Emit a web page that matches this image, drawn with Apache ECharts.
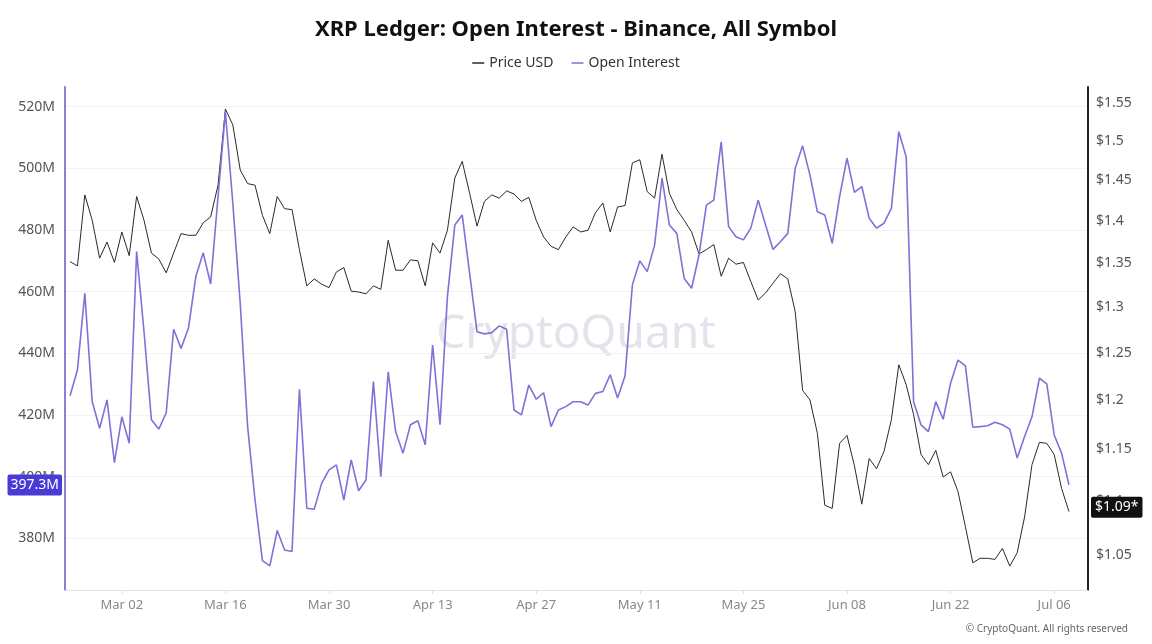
<!DOCTYPE html>
<html>
<head>
<meta charset="utf-8">
<script src="https://cdn.jsdelivr.net/npm/echarts@6/dist/echarts.min.js"></script>
<style>
html, body { margin: 0; padding: 0; background: #fff; }
#chart { width: 1152px; height: 644px; }
</style>
</head>
<body>
<div id="chart"></div>
<script>
// daily points from Feb 23 to Jul 08
const START_DATE = Date.UTC(2026, 1, 23);
const DAY = 86400000;
const MONTHS = ["Jan", "Feb", "Mar", "Apr", "May", "Jun", "Jul", "Aug", "Sep", "Oct", "Nov", "Dec"];

const PRICE_USD = [
  1.352, 1.347, 1.432, 1.401, 1.356, 1.375, 1.351, 1.387, 1.359, 1.430,
  1.401, 1.362, 1.355, 1.339, 1.362, 1.385, 1.383, 1.383, 1.398, 1.405,
  1.444, 1.542, 1.521, 1.463, 1.446, 1.444, 1.407, 1.385, 1.430, 1.415,
  1.414, 1.366, 1.324, 1.332, 1.326, 1.322, 1.340, 1.345, 1.318, 1.317,
  1.315, 1.324, 1.320, 1.377, 1.342, 1.342, 1.354, 1.353, 1.324, 1.374,
  1.362, 1.389, 1.453, 1.474, 1.434, 1.394, 1.424, 1.432, 1.428, 1.437,
  1.433, 1.424, 1.429, 1.401, 1.381, 1.370, 1.366, 1.381, 1.393, 1.387,
  1.389, 1.410, 1.422, 1.387, 1.417, 1.419, 1.472, 1.476, 1.436, 1.428,
  1.483, 1.434, 1.414, 1.401, 1.387, 1.361, 1.366, 1.372, 1.335, 1.356,
  1.349, 1.351, 1.329, 1.308, 1.316, 1.327, 1.338, 1.332, 1.295, 1.210,
  1.200, 1.166, 1.096, 1.093, 1.156, 1.164, 1.134, 1.097, 1.141, 1.131,
  1.148, 1.180, 1.237, 1.216, 1.185, 1.145, 1.135, 1.149, 1.123, 1.128,
  1.109, 1.076, 1.043, 1.047, 1.047, 1.046, 1.056, 1.040, 1.052, 1.085,
  1.135, 1.157, 1.156, 1.145, 1.112, 1.090
];

// open interest, millions USD
const OPEN_INTEREST_M = [
  426.2, 434.6, 459.5, 424.3, 415.7, 424.9, 404.5, 419.4, 410.8, 473.0,
  447.0, 418.4, 415.4, 420.7, 447.8, 441.6, 448.1, 464.9, 472.6, 462.5,
  490.8, 518.3, 488.7, 456.2, 416.2, 392.4, 372.7, 371.0, 382.5, 376.2,
  375.7, 428.3, 389.7, 389.4, 397.8, 402.2, 403.8, 392.4, 405.4, 395.4,
  398.9, 430.8, 400.0, 434.0, 414.6, 407.6, 416.8, 418.1, 410.3, 442.7,
  416.8, 458.4, 481.6, 484.9, 466.0, 447.0, 446.3, 446.7, 448.9, 447.8,
  421.6, 420.0, 429.7, 425.1, 427.2, 416.2, 421.6, 422.7, 424.3, 424.3,
  423.2, 427.0, 427.6, 433.0, 425.5, 432.6, 462.2, 470.0, 466.5, 475.1,
  496.8, 481.6, 478.9, 464.3, 461.1, 471.9, 488.1, 489.7, 508.6, 481.1,
  477.8, 476.8, 480.6, 489.7, 481.6, 473.7, 476.2, 478.9, 500.0, 507.3,
  497.8, 485.9, 484.9, 475.7, 490.8, 503.3, 492.2, 494.1, 483.8, 480.6,
  482.2, 487.0, 511.9, 503.8, 424.3, 416.8, 414.6, 424.3, 418.6, 430.3,
  437.8, 435.9, 416.0, 416.2, 416.5, 417.6, 416.8, 415.4, 406.0, 413.0,
  419.4, 431.9, 430.1, 413.5, 407.6, 397.3
];

const X_TICKS = ["2026-03-02", "2026-03-16", "2026-03-30", "2026-04-13", "2026-04-27",
  "2026-05-11", "2026-05-25", "2026-06-08", "2026-06-22", "2026-07-06"];
const OI_TICKS = [380, 400, 420, 440, 460, 480, 500, 520];
const PRICE_TICKS = [1.05, 1.1, 1.15, 1.2, 1.25, 1.3, 1.35, 1.4, 1.45, 1.5, 1.55];
const OI_RANGE = [363.2, 526.4];
const PRICE_RANGE = [1.0188, 1.5715];
const LAST_OI_LABEL = "397.3M";
const LAST_PRICE_LABEL = "$1.09*";

const FONT = "'Noto Sans', 'Open Sans', sans-serif";

const dateAt = (i) => START_DATE + i * DAY;
const tickTimes = X_TICKS.map((s) => Date.parse(s + "T00:00:00Z"));
const fmtDate = (v) => {
  const d = new Date(v);
  return MONTHS[d.getUTCMonth()] + " " + String(d.getUTCDate()).padStart(2, "0");
};

// price axis is logarithmic: plot ln(price) on a value axis
const priceData = PRICE_USD.map((p, i) => [dateAt(i), Math.log(p)]);
const oiData = OPEN_INTEREST_M.map((v, i) => [dateAt(i), v]);
const lastIdx = PRICE_USD.length - 1;

const chart = echarts.init(document.getElementById("chart"));
chart.setOption({
  animation: false,
  backgroundColor: "#fff",
  textStyle: { fontFamily: FONT },
  title: {
    text: "XRP Ledger: Open Interest - Binance, All Symbol",
    left: "center",
    top: 14,
    textStyle: { fontSize: 22, fontWeight: "bold", color: "#111", fontFamily: FONT },
  },
  legend: {
    top: 51,
    left: "center",
    icon: "rect",
    itemWidth: 12,
    itemHeight: 1.5,
    itemGap: 18,
    data: ["Price USD", "Open Interest"],
    textStyle: { fontSize: 14, color: "#333", fontFamily: FONT },
  },
  grid: { left: 65, right: 64, top: 87, bottom: 54 },
  xAxis: {
    type: "value",
    min: START_DATE - 0.68 * DAY,
    max: dateAt(lastIdx) + 2.57 * DAY,
    axisLine: { lineStyle: { color: "#e2e2e2", width: 1 } },
    axisTick: { show: true, length: 4, lineStyle: { color: "#e2e2e2" }, customValues: tickTimes },
    axisLabel: {
      customValues: tickTimes,
      formatter: fmtDate,
      color: "#888",
      fontSize: 13,
      margin: 9,
      fontFamily: FONT,
    },
    splitLine: { show: false },
  },
  yAxis: [
    {
      type: "value",
      position: "left",
      min: OI_RANGE[0],
      max: OI_RANGE[1],
      axisLine: { show: true, lineStyle: { color: "#8a80d8", width: 2 } },
      axisTick: { show: false, customValues: OI_TICKS },
      axisLabel: {
        customValues: OI_TICKS,
        formatter: (v) => v + "M",
        color: "#555",
        fontSize: 14,
        margin: 10,
        fontFamily: FONT,
      },
      splitLine: { show: true, lineStyle: { color: "#f2f2f2", width: 1 } },
    },
    {
      type: "value",
      position: "right",
      min: Math.log(PRICE_RANGE[0]),
      max: Math.log(PRICE_RANGE[1]),
      axisLine: { show: true, lineStyle: { color: "#222", width: 2 } },
      axisTick: { show: false, customValues: PRICE_TICKS.map(Math.log) },
      axisLabel: {
        customValues: PRICE_TICKS.map(Math.log),
        formatter: (v) => "$" + Number(Math.exp(v).toFixed(2)),
        color: "#555",
        fontSize: 14,
        margin: 8,
        fontFamily: FONT,
      },
      splitLine: { show: false },
    },
  ],
  graphic: [
    {
      type: "text",
      left: "center",
      top: 312,
      z: 0,
      silent: true,
      style: {
        text: "CryptoQuant",
        font: "normal 46px " + FONT,
        fill: "rgba(200,200,218,0.5)",
      },
    },
    {
      type: "text",
      right: 24,
      bottom: 10,
      silent: true,
      style: {
        text: "\u00A9 CryptoQuant. All rights reserved",
        font: "10px " + FONT,
        fill: "#666",
      },
    },
  ],
  series: [
    {
      name: "Price USD",
      type: "line",
      yAxisIndex: 1,
      symbol: "none",
      data: priceData,
      lineStyle: { color: "#2a2a2a", width: 1 },
      itemStyle: { color: "#2a2a2a" },
      markLine: {
        silent: true,
        symbol: "none",
        lineStyle: { color: "rgba(0,0,0,0)", width: 0 },
        data: [{ yAxis: Math.log(PRICE_USD[lastIdx]) }],
        label: {
          position: "end",
          distance: 3,
          formatter: LAST_PRICE_LABEL,
          backgroundColor: "#111",
          color: "#fff",
          fontSize: 14,
          padding: [4, 4, 3, 4],
          borderRadius: 2,
          fontFamily: FONT,
        },
      },
    },
    {
      name: "Open Interest",
      type: "line",
      yAxisIndex: 0,
      symbol: "none",
      data: oiData,
      lineStyle: { color: "#7d72d8", width: 1.6 },
      itemStyle: { color: "#7d72d8" },
      markLine: {
        silent: true,
        symbol: "none",
        lineStyle: { color: "rgba(0,0,0,0)", width: 0 },
        data: [{ yAxis: OPEN_INTEREST_M[lastIdx] }],
        label: {
          position: "start",
          distance: 3,
          formatter: LAST_OI_LABEL,
          backgroundColor: "#4a3ad6",
          color: "#fff",
          fontSize: 14,
          padding: [4, 3, 3, 3],
          borderRadius: 2,
          fontFamily: FONT,
        },
      },
    },
  ],
});
</script>
</body>
</html>
